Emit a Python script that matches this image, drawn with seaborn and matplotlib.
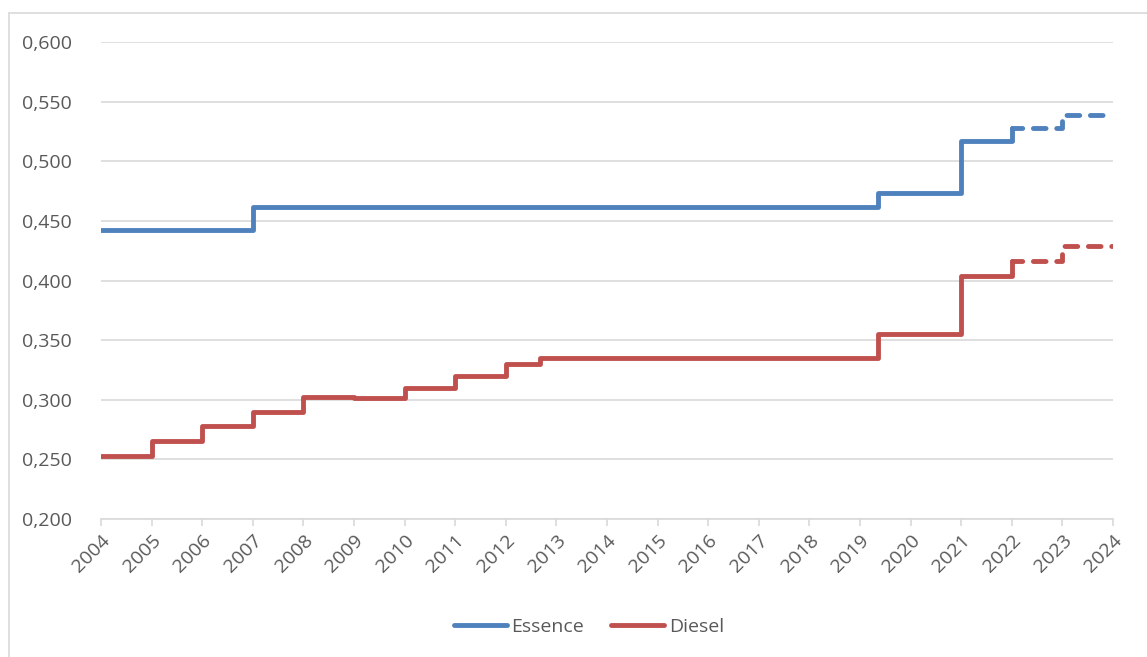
import matplotlib
matplotlib.use("Agg")
import matplotlib.pyplot as plt
from matplotlib.lines import Line2D
from matplotlib.ticker import FuncFormatter, MultipleLocator
import seaborn as sns
import pandas as pd

# ---- data ----
essence_dates = [2004.0, 2007.0, 2019.35, 2021.0, 2022.0]
essence_values = [0.442, 0.462, 0.473, 0.517, 0.528]
essence_proj_dates = [2022.0, 2023.0, 2024.0]
essence_proj_values = [0.528, 0.539, 0.539]

diesel_dates = [2004.0, 2005.0, 2006.0, 2007.0, 2008.0, 2009.0, 2010.0, 2011.0,
                2012.0, 2012.67, 2019.35, 2021.0, 2022.0]
diesel_values = [0.253, 0.265, 0.278, 0.290, 0.3025, 0.3015, 0.310, 0.320,
                 0.330, 0.335, 0.355, 0.404, 0.416]
diesel_proj_dates = [2022.0, 2023.0, 2024.0]
diesel_proj_values = [0.416, 0.429, 0.429]

years = list(range(2004, 2025))
series_names = ["Essence", "Diesel"]
colors = {"Essence": "#4F81BD", "Diesel": "#C0504D"}

sns.set_theme(style="white")
plt.rcParams["font.family"] = ["Open Sans", "DejaVu Sans"]

LW = 3.5
FS = 14

fig = plt.figure(figsize=(11.47, 6.57), dpi=100)
ax = fig.add_axes([101/1147, 1-519/657, (1113-101)/1147, (519-42)/657])

def draw(dates, values, name, dashed):
    df = pd.DataFrame({"x": dates, "y": values})
    sns.lineplot(data=df, x="x", y="y", ax=ax, color=colors[name],
                 drawstyle="steps-post", linewidth=LW,
                 linestyle=(0.5, (2.6, 2.2)) if dashed else "-",
                 solid_capstyle="round", dash_capstyle="round",
                 solid_joinstyle="round", dash_joinstyle="round",
                 estimator=None, legend=False)

draw(essence_dates, essence_values, "Essence", False)
draw(essence_proj_dates, essence_proj_values, "Essence", True)
draw(diesel_dates, diesel_values, "Diesel", False)
draw(diesel_proj_dates, diesel_proj_values, "Diesel", True)

ax.set_xlim(2004, 2024)
ax.set_ylim(0.2, 0.6)
ax.yaxis.set_major_locator(MultipleLocator(0.05))
ax.yaxis.set_major_formatter(FuncFormatter(lambda v, p: f"{v:.3f}".replace(".", ",")))
ax.set_xticks(years)
ax.set_xticklabels([str(y) for y in years], rotation=45, ha="right",
                   rotation_mode="anchor")
ax.set_xlabel("")
ax.set_ylabel("")

ax.grid(axis="y", color="#D9D9D9", linewidth=1.2)
ax.grid(axis="x", visible=False)
ax.set_axisbelow(True)
for s in ["left", "right", "top"]:
    ax.spines[s].set_visible(False)
ax.spines["bottom"].set_color("#D9D9D9")
ax.spines["bottom"].set_linewidth(1.2)
ax.tick_params(axis="x", which="major", bottom=True, length=5, width=1.2,
               color="#D9D9D9", labelsize=FS, labelcolor="#595959", pad=4)
ax.tick_params(axis="y", left=False, labelsize=FS, labelcolor="#595959", pad=15)

handles = [Line2D([0], [0], color=colors[n], linewidth=LW, solid_capstyle="round")
           for n in series_names]
leg = fig.legend(handles, series_names, loc="center",
                 bbox_to_anchor=(589/1147, 1-627/657),
                 ncol=2, frameon=False, fontsize=FS, handlelength=2.7,
                 handletextpad=0.25, columnspacing=1.4)
for t in leg.get_texts():
    t.set_color("#595959")

# chart border (top and left visible)
fig.add_artist(Line2D([9/1147, 9/1147], [0, 1-13/657], transform=fig.transFigure,
                      color="#D9D9D9", linewidth=1.2))
fig.add_artist(Line2D([9/1147, 1], [1-13/657, 1-13/657], transform=fig.transFigure,
                      color="#D9D9D9", linewidth=1.2))

fig.savefig("out.png", dpi=100, facecolor="white")
